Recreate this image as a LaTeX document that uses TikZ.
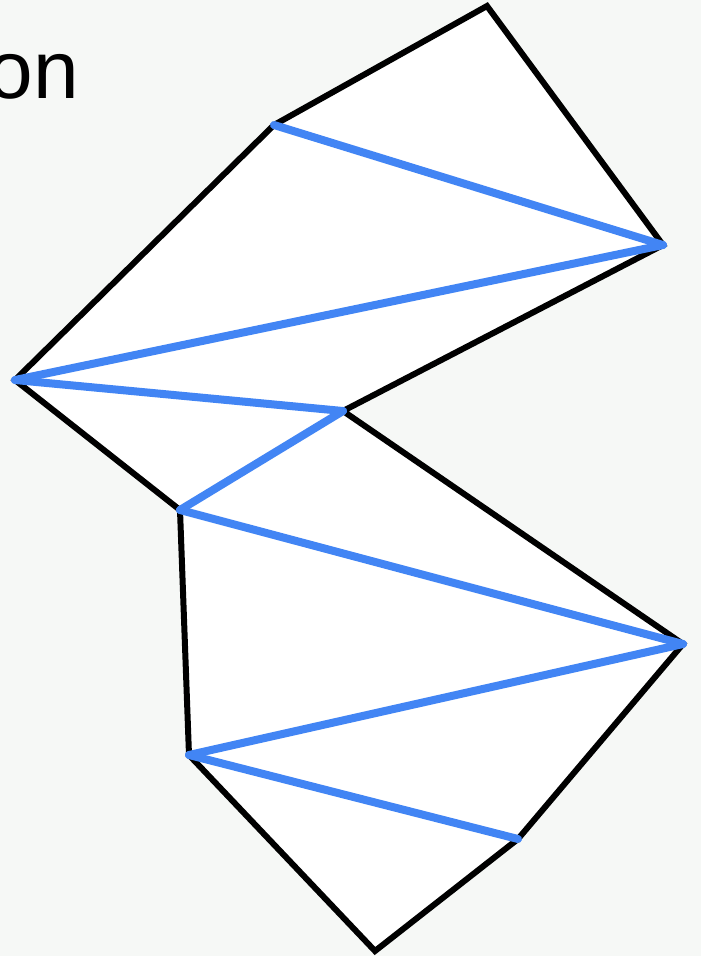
\documentclass[tikz,border=0pt]{standalone}
\usepackage{fontspec}
\setmainfont{Liberation Sans}
\definecolor{bgtint}{HTML}{F6F8F6}
\definecolor{gblue}{HTML}{4285F4}
\begin{document}
\begin{tikzpicture}[x=1pt,y=-1pt,
  edge/.style={line width=6pt,black,line join=miter},
  diag/.style={line width=8pt,gblue,line cap=round},
  vtx/.style={coordinate}]
\fill[bgtint] (0,0) rectangle (701,956);
\useasboundingbox (0,0) rectangle (701,956);
\node[anchor=base west,inner sep=0pt,font=\fontsize{82}{82}\selectfont] (label) at (-12.6,98) {on};
\coordinate (A) at (487,6);
\coordinate (B) at (663,245);
\coordinate (C) at (343,411);
\coordinate (D) at (683,644);
\coordinate (E) at (518,839);
\coordinate (F) at (375,951);
\coordinate (G) at (189,755);
\coordinate (H) at (180,510);
\coordinate (I) at (15,380);
\coordinate (J) at (274,125);
\filldraw[edge,fill=white] (A) -- (B) -- (C) -- (D) -- (E) -- (F) -- (G) -- (H) -- (I) -- (J) -- cycle;
\draw[diag] (J) -- (B);
\draw[diag] (B) -- (I);
\draw[diag] (I) -- (C);
\draw[diag] (C) -- (H);
\draw[diag] (H) -- (D);
\draw[diag] (D) -- (G);
\draw[diag] (G) -- (E);
\end{tikzpicture}
\end{document}
